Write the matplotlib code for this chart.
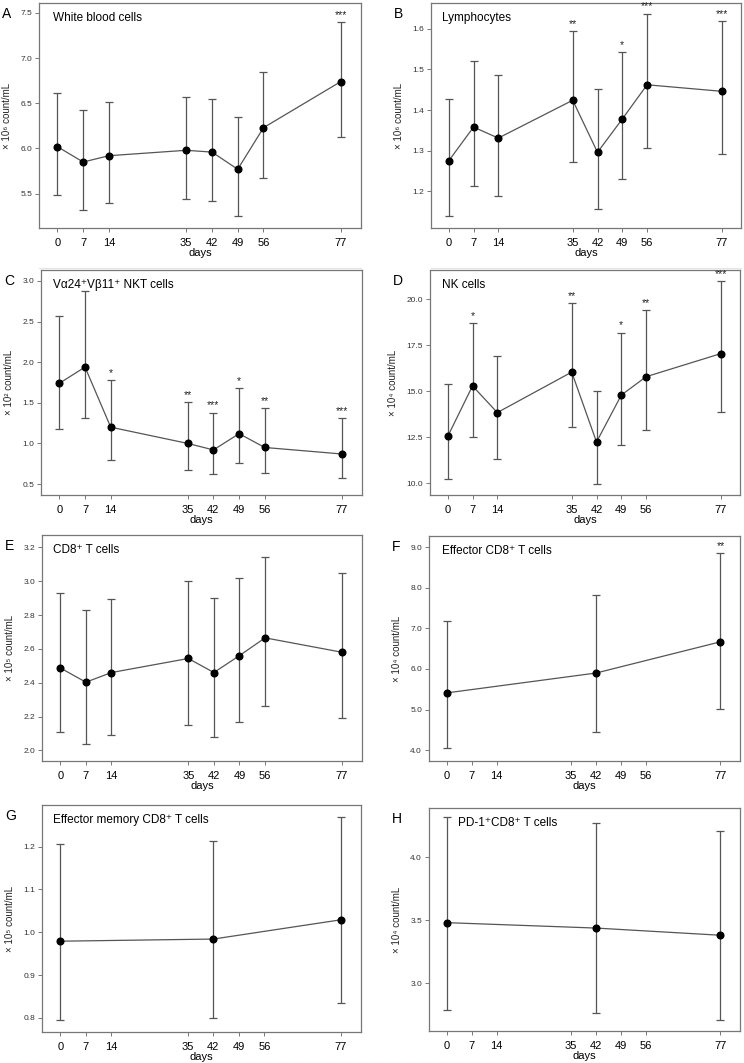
import matplotlib
matplotlib.use("Agg")
import matplotlib.pyplot as plt
from matplotlib.lines import Line2D

plt.rcParams["font.family"] = ["Liberation Sans", "DejaVu Sans"]

days_all = [0, 7, 14, 35, 42, 49, 56, 77]
days_few = [0, 42, 77]

# A  white blood cells (x 10^6 count/mL)
wbc_mean = [6.02, 5.85, 5.92, 5.98, 5.96, 5.77, 6.23, 6.74]
wbc_hi = [6.61, 6.43, 6.51, 6.57, 6.55, 6.35, 6.85, 7.40]
wbc_lo = [5.48, 5.32, 5.40, 5.44, 5.42, 5.25, 5.67, 6.13]
wbc_sig = ["", "", "", "", "", "", "", "***"]

# B  lymphocytes (x 10^6 count/mL)
lym_mean = [1.275, 1.358, 1.331, 1.424, 1.296, 1.378, 1.462, 1.446]
lym_hi = [1.426, 1.520, 1.487, 1.595, 1.451, 1.543, 1.637, 1.619]
lym_lo = [1.140, 1.213, 1.189, 1.271, 1.156, 1.230, 1.307, 1.291]
lym_sig = ["", "", "", "**", "", "*", "***", "***"]

# C  NKT cells (x 10^2 count/mL)
nkt_mean = [1.74, 1.94, 1.20, 1.00, 0.92, 1.12, 0.95, 0.87]
nkt_hi = [2.57, 2.88, 1.78, 1.51, 1.38, 1.68, 1.43, 1.31]
nkt_lo = [1.18, 1.31, 0.80, 0.67, 0.62, 0.76, 0.64, 0.58]
nkt_sig = ["", "", "*", "**", "***", "*", "**", "***"]

# D  NK cells (x 10^4 count/mL)
nk_mean = [12.55, 15.3, 13.85, 16.05, 12.25, 14.8, 15.8, 17.05]
nk_hi = [15.4, 18.7, 16.9, 19.8, 15.05, 18.2, 19.4, 21.0]
nk_lo = [10.25, 12.5, 11.3, 13.05, 9.96, 12.1, 12.9, 13.9]
nk_sig = ["", "*", "", "**", "", "*", "**", "***"]

# E  CD8+ T cells (x 10^5 count/mL)
cd8_mean = [2.487, 2.403, 2.46, 2.543, 2.46, 2.56, 2.665, 2.58]
cd8_hi = [2.93, 2.83, 2.895, 3.0, 2.9, 3.02, 3.145, 3.05]
cd8_lo = [2.11, 2.04, 2.09, 2.15, 2.08, 2.17, 2.26, 2.19]
cd8_sig = [""] * 8

# F  effector CD8+ T cells (x 10^4 count/mL)
eff_mean = [5.41, 5.90, 6.67]
eff_hi = [7.18, 7.83, 8.85]
eff_lo = [4.06, 4.44, 5.01]
eff_sig = ["", "", "**"]

# G  effector memory CD8+ T cells (x 10^5 count/mL)
em_mean = [0.979, 0.984, 1.029]
em_hi = [1.207, 1.213, 1.269]
em_lo = [0.794, 0.800, 0.834]
em_sig = ["", "", ""]

# H  PD-1+CD8+ T cells (x 10^4 count/mL)
pd1_mean = [3.48, 3.437, 3.38]
pd1_hi = [4.32, 4.27, 4.21]
pd1_lo = [2.79, 2.76, 2.71]
pd1_sig = ["", "", ""]

W, H = 744, 1063
GREY = "#555555"

# letter, title, exponent, x, mean, hi, lo, stars, box(px), ylim, yticks, title offset(px)
panels = [
    ("A", "White blood cells", "6", days_all, wbc_mean, wbc_hi, wbc_lo, wbc_sig,
     (39, 361, 3, 228), (5.12, 7.61), [5.5, 6.0, 6.5, 7.0, 7.5], 14),
    ("B", "Lymphocytes", "6", days_all, lym_mean, lym_hi, lym_lo, lym_sig,
     (431, 741, 3, 228), (1.110, 1.663), [1.2, 1.3, 1.4, 1.5, 1.6], 11),
    ("C", "Vα24⁺Vβ11⁺ NKT cells", "2", days_all, nkt_mean, nkt_hi, nkt_lo, nkt_sig,
     (41, 362, 270, 495), (0.365, 3.135), [0.5, 1.0, 1.5, 2.0, 2.5, 3.0], 12),
    ("D", "NK cells", "4", days_all, nk_mean, nk_hi, nk_lo, nk_sig,
     (430, 740, 270, 495), (9.37, 21.6), [10.0, 12.5, 15.0, 17.5, 20.0], 12),
    ("E", "CD8⁺ T cells", "5", days_all, cd8_mean, cd8_hi, cd8_lo, cd8_sig,
     (42, 362, 535, 761), (1.937, 3.273), [2.0, 2.2, 2.4, 2.6, 2.8, 3.0, 3.2], 11),
    ("F", "Effector CD8⁺ T cells", "4", days_few, eff_mean, eff_hi, eff_lo, eff_sig,
     (429, 740, 536, 761), (3.73, 9.28), [4.0, 5.0, 6.0, 7.0, 8.0, 9.0], 13),
    ("G", "Effector memory CD8⁺ T cells", "5", days_few, em_mean, em_hi, em_lo, em_sig,
     (42, 361, 805, 1032), (0.767, 1.297), [0.8, 0.9, 1.0, 1.1, 1.2], 11),
    ("H", "PD-1⁺CD8⁺ T cells", "4", days_few, pd1_mean, pd1_hi, pd1_lo, pd1_sig,
     (429, 740, 808, 1031), (2.62, 4.39), [3.0, 3.5, 4.0], 29),
]

sup = {"2": "²", "4": "⁴", "5": "⁵", "6": "⁶"}

fig = plt.figure(figsize=(W / 100, H / 100), dpi=100)

for letter, title, exp, x, mean, hi, lo, sig, box, ylim, yticks, toff in panels:
    left, right, top, bottom = box
    ax = fig.add_axes([left / W, 1 - bottom / H, (right - left) / W, (bottom - top) / H])
    yerr = [[m - l for m, l in zip(mean, lo)], [h - m for m, h in zip(mean, hi)]]
    ax.errorbar(x, mean, yerr=yerr, fmt="none", ecolor=GREY, elinewidth=0.9,
                capsize=3, capthick=0.9)
    ax.plot(x, mean, color=GREY, lw=0.9, marker="o", markersize=4.8,
            markerfacecolor="black", markeredgecolor="black")
    for xi, h, s in zip(x, hi, sig):
        if s:
            ax.annotate(s, (xi, h), xytext=(0, 1.5), textcoords="offset points",
                        ha="center", va="bottom", fontsize=7.5, color="#222222")
    ax.set_xlim(-5, 82.5)
    ax.set_ylim(*ylim)
    ax.set_xticks(days_all)
    ax.set_xticklabels([str(d) for d in days_all], fontsize=8)
    ax.set_yticks(yticks)
    ax.set_yticklabels([f"{t:.1f}" for t in yticks], fontsize=6, color="#333333")
    ax.tick_params(axis="both", length=3, width=0.7, color="#777777", pad=2)
    ax.tick_params(axis="x", pad=4)
    for sp in ax.spines.values():
        sp.set_color("#777777")
        sp.set_linewidth(0.9)
    ax.set_xlabel("days", fontsize=8, labelpad=0)
    ax.set_ylabel(f"× 10{sup[exp]} count/mL", fontsize=7, color="#222222", labelpad=6)
    ax.annotate(title, (0, 1), xycoords="axes fraction", xytext=(toff * 0.72, -11),
                textcoords="offset points", ha="left", va="center", fontsize=8.5)
    fig.text((left - 37) / W, 1 - (top + 11) / H, letter, ha="left", va="center",
             fontsize=10)

# faint separators under the first row
for x0, x1 in [(39, 361), (431, 741)]:
    fig.add_artist(Line2D([x0 / W, x1 / W], [1 - 268 / H, 1 - 268 / H],
                          color="#e6e6e6", lw=0.8))

fig.savefig("out.png", dpi=100)
